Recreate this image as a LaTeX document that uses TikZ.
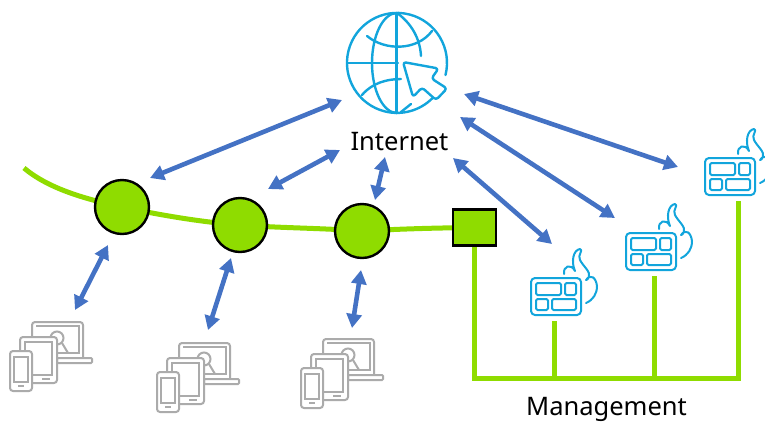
\documentclass[tikz,border=0pt]{standalone}
\usepackage{fontspec}
\setmainfont{Noto Sans}
\usetikzlibrary{arrows.meta}
\definecolor{grn}{HTML}{8FDC00}
\definecolor{blu}{HTML}{4472C4}
\definecolor{cya}{HTML}{12A5DC}
\definecolor{gry}{HTML}{ABABAB}
\tikzset{
  link/.style={line width=4.6pt,blu,{Stealth[length=14pt,width=15pt,inset=0pt]}-{Stealth[length=14pt,width=15pt,inset=0pt]}},
  wire/.style={line width=5pt,grn},
  hub/.style={circle,draw=black,line width=2.4pt,fill=grn,minimum size=54pt,inner sep=0pt},
  gate/.style={rectangle,draw=black,line width=2.4pt,fill=grn,minimum width=43pt,minimum height=36pt,inner sep=0pt},
  lab/.style={font=\fontsize{25.5}{30}\selectfont,text=black,inner sep=0pt},
  ico/.style={cya,line width=2pt,line cap=round,line join=round},
  dev/.style={gry,line width=2pt,line join=round,fill=white},
  pics/firewall/.style={code={
    \draw[ico,rounded corners=4pt] (0,0) rectangle (50,37);
    \draw[ico,rounded corners=1.5pt] (5,5) rectangle (30,17);
    \draw[ico,rounded corners=1.5pt] (34,5) rectangle (45,17);
    \draw[ico,rounded corners=1.5pt] (5,21) rectangle (17,32);
    \draw[ico,rounded corners=1.5pt] (21,21) rectangle (45,32);
    \draw[ico] (33,-4) .. controls (32,-12) and (40,-15) .. (44,-7)
      .. controls (40,-16) and (42,-28) .. (49,-29)
      .. controls (53,-28) and (46,-23) .. (49,-18)
      .. controls (52,-12) and (60,-6) .. (58,-1)
      .. controls (57,1) and (56,2) .. (55,2)
      .. controls (60,-5) and (65,0) .. (66,8)
      .. controls (66,16) and (62,22) .. (55,25);
  }},
  pics/devices/.style={code={
    \draw[dev,rounded corners=3pt] (32,357) -- (32,322) -- (83,322) -- (83,357);
    \draw[gry,line width=2pt] (36,326) -- (79,326) -- (79,353) -- (58,353);
    \draw[gry,line width=2pt,rounded corners=1pt] (57,358) rectangle (92,363);
    \draw[gry,line width=2pt] (57,338) circle (6.5);
    \draw[gry,line width=2pt] (62,343) -- (68,353);
    \draw[dev,rounded corners=3pt] (20,337) rectangle (57,383);
    \draw[gry,line width=2pt] (25,342) rectangle (52,375);
    \draw[gry,line width=1.5pt] (42,379) -- (50,379);
    \draw[dev,rounded corners=3pt] (10,351) rectangle (32,391);
    \draw[gry,line width=2pt] (14,357) -- (28,357) -- (28,382) -- (14,382) -- cycle;
    \draw[gry,line width=1.5pt] (18,386) -- (24,386);
  }},
}
\begin{document}
\begin{tikzpicture}[x=1pt,y=-1pt]
\useasboundingbox (0,0) rectangle (765,421);
\coordinate (netA) at (342,100);
\coordinate (netB) at (340,150);
\coordinate (netC) at (385,157);
\coordinate (netD) at (453,158);
\coordinate (netE) at (460,117);
\coordinate (netF) at (464,94);
\coordinate (hubAup) at (150,178);
\coordinate (hubBup) at (268,189);
\coordinate (hubCup) at (375,200);
\coordinate (fwAup) at (552,244);
\coordinate (fwBup) at (615,218);
\coordinate (fwCup) at (678,167);
\coordinate (hubAdn) at (108,245);
\coordinate (hubBdn) at (231,258);
\coordinate (hubCdn) at (361,270);
\coordinate (devA) at (75,310);
\coordinate (devB) at (208,330);
\coordinate (devC) at (352,328);
\coordinate (lineStart) at (24,168);
\coordinate (busL) at (474,378);
\coordinate (busA) at (554,378);
\coordinate (busB) at (654,378);
\coordinate (busC) at (738,378);
\coordinate (fwAdn) at (554,321);
\coordinate (fwBdn) at (654,276);
\coordinate (fwCdn) at (738,203);
\coordinate (pA) at (122,207);
\coordinate (pB) at (240,225);
\coordinate (pC) at (362,231);
\coordinate (pG) at (474.5,227.5);
\draw[wire] (lineStart) .. controls (50,190) and (90,200) .. (pA)
  .. controls (160,215) and (200,222) .. (pB)
  .. controls (280,228) and (320,228) .. (pC)
  .. controls (400,229) and (430,228) .. (pG);
\draw[wire,line cap=rect] (474,230) -- (busL) -- (busC) -- (fwCdn);
\draw[wire] (busA) -- (fwAdn);
\draw[wire] (busB) -- (fwBdn);
\node[hub] (hubA) at (pA) {};
\node[hub] (hubB) at (pB) {};
\node[hub] (hubC) at (pC) {};
\node[gate] (gw) at (pG) {};
\draw[link] (hubAup) -- (netA);
\draw[link] (hubBup) -- (netB);
\draw[link] (hubCup) -- (netC);
\draw[link] (fwAup) -- (netD);
\draw[link] (fwBup) -- (netE);
\draw[link] (fwCup) -- (netF);
\draw[link] (hubAdn) -- (devA);
\draw[link] (hubBdn) -- (devB);
\draw[link] (hubCdn) -- (devC);
\begin{scope}[shift={(397,63)},ico,line width=2.4pt]
  \draw (-0.5,-50) -- (-0.5,50);
  \draw (-50,0) -- (1,0);
  \draw (0,-50) arc[start angle=-90,end angle=-270,x radius=25,y radius=50];
  \draw (0,-50) .. controls (14,-40) and (23,-25) .. (24,-7);
  \draw (-30,-27) .. controls (-12,-12) and (20,-12) .. (35,-32);
  \draw (-35,32) .. controls (-25,20) and (-10,16) .. (4,16);
  \draw (4,49) -- (14,41);
  \draw (48.5,12) arc[start angle=14,end angle=-315,radius=50];
\end{scope}
\draw[ico,line width=2.4pt,rounded corners=3pt,shift={(330,0)}] (73,62) -- (108.5,68.5) -- (101.5,78.5) -- (117,88.5) -- (106,100) -- (92,87.5) -- (83,97) -- cycle;
\node[lab,anchor=base] (inet) at (399.5,150) {Internet};
\node[lab,anchor=base] (mgmt) at (606.5,415) {Management};
\pic at (531,278) {firewall};
\pic at (626,233) {firewall};
\pic at (705,158) {firewall};
\pic at (0,0) {devices};
\pic at (147,21) {devices};
\pic at (291,17) {devices};
\end{tikzpicture}
\end{document}
